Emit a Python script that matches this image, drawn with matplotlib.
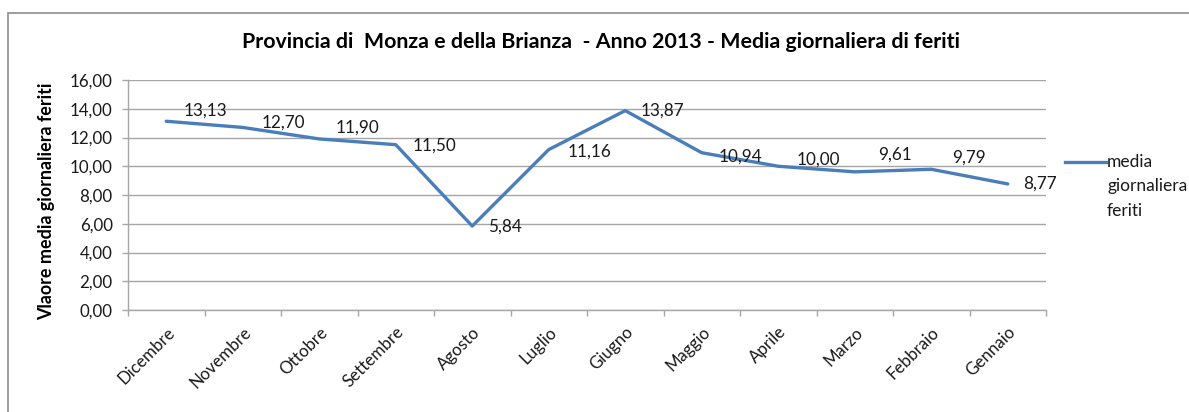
import matplotlib
matplotlib.use("Agg")
import matplotlib.pyplot as plt
from matplotlib.patches import Rectangle
from matplotlib.lines import Line2D

# ---- data ----
mesi = ["Dicembre", "Novembre", "Ottobre", "Settembre", "Agosto", "Luglio",
        "Giugno", "Maggio", "Aprile", "Marzo", "Febbraio", "Gennaio"]
media_feriti = [13.13, 12.70, 11.90, 11.50, 5.84, 11.16,
                13.87, 10.94, 10.00, 9.61, 9.79, 8.77]
y_ticks = [0, 2, 4, 6, 8, 10, 12, 14, 16]
titolo = "Provincia di  Monza e della Brianza  - Anno 2013 - Media giornaliera di feriti"
etichetta_y = "Vlaore media giornaliera feriti"
nome_serie = ["media", "giornaliera", "feriti"]

# label offsets (pixels) – styling only
lab_dx = [17, 19, 16, 17, 16, 19, 15, 17, 18, 23, 21, 15]
lab_dy = [11, 5, 11, -1, -1, -2, 0, -4, 7, 17, 12, 0]

FONT = "Lato"
W, H = 1189, 412
LINE_C = "#4A7EBB"
GRID_C = "#A6A6A6"
TXT_C = "#1a1a1a"

fig = plt.figure(figsize=(W / 100, H / 100), dpi=100)
fig.patch.set_facecolor("white")

# chart frame
fig.add_artist(Rectangle((8 / W, -0.1), 1.2, 1 - 13 / H + 0.1, transform=fig.transFigure,
                         fill=False, edgecolor="#8C8C8C", linewidth=1.2))

ax = fig.add_axes([128 / W, 1 - 310 / H, (1046 - 128) / W, (310 - 80) / H])
x = list(range(len(mesi)))
line, = ax.plot(x, media_feriti, color=LINE_C, linewidth=2.4,
                solid_joinstyle="round", solid_capstyle="round", zorder=3)

ax.set_xlim(-0.5, len(mesi) - 0.5)
ax.set_ylim(0, 16)
ax.set_yticks(y_ticks)
ax.set_yticklabels([f"{v:.2f}".replace(".", ",") for v in y_ticks],
                   fontfamily=FONT, fontsize=12.2, color=TXT_C)
ax.set_xticks(x)
ax.set_xticklabels(mesi, rotation=45, ha="right", va="top", rotation_mode="anchor",
                   fontfamily=FONT, fontsize=12.2, color=TXT_C)
ax.set_xticks([i - 0.5 for i in range(len(mesi) + 1)], minor=True)
ax.tick_params(axis="x", which="major", length=0, pad=10)
ax.tick_params(axis="x", which="minor", length=4, color=GRID_C, width=1)
ax.tick_params(axis="y", length=4, color=GRID_C, width=1, pad=7)

ax.grid(axis="y", color=GRID_C, linewidth=1)
ax.set_axisbelow(True)
for s in ["top", "right"]:
    ax.spines[s].set_visible(False)
for s in ["left", "bottom"]:
    ax.spines[s].set_color(GRID_C)
    ax.spines[s].set_linewidth(1)

for i, v in enumerate(media_feriti):
    ax.annotate(f"{v:.2f}".replace(".", ","), (i, v), xytext=(lab_dx[i], lab_dy[i]),
                textcoords="offset pixels", ha="left", va="center",
                fontfamily=FONT, fontsize=12.3, color=TXT_C, zorder=4)

fig.text(601 / W, 1 - 42 / H, titolo, ha="center", va="center",
         fontfamily=FONT, fontweight="bold", fontsize=15.4, color="black")
fig.text(47 / W, 1 - 201 / H, etichetta_y, ha="center", va="center", rotation=90,
         fontfamily=FONT, fontweight="bold", fontsize=12.9, color="black")

# legend (manual, Excel-style: handle next to first line)
fig.add_artist(Line2D([1065 / W, 1106 / W], [1 - 162 / H, 1 - 162 / H],
                      transform=fig.transFigure, color=LINE_C, linewidth=2.4))
for k, riga in enumerate(nome_serie):
    fig.text(1107 / W, 1 - (162 + 24.5 * k) / H, riga, ha="left", va="center",
             fontfamily=FONT, fontsize=12.5, color=TXT_C)

fig.savefig("out.png", dpi=100)
